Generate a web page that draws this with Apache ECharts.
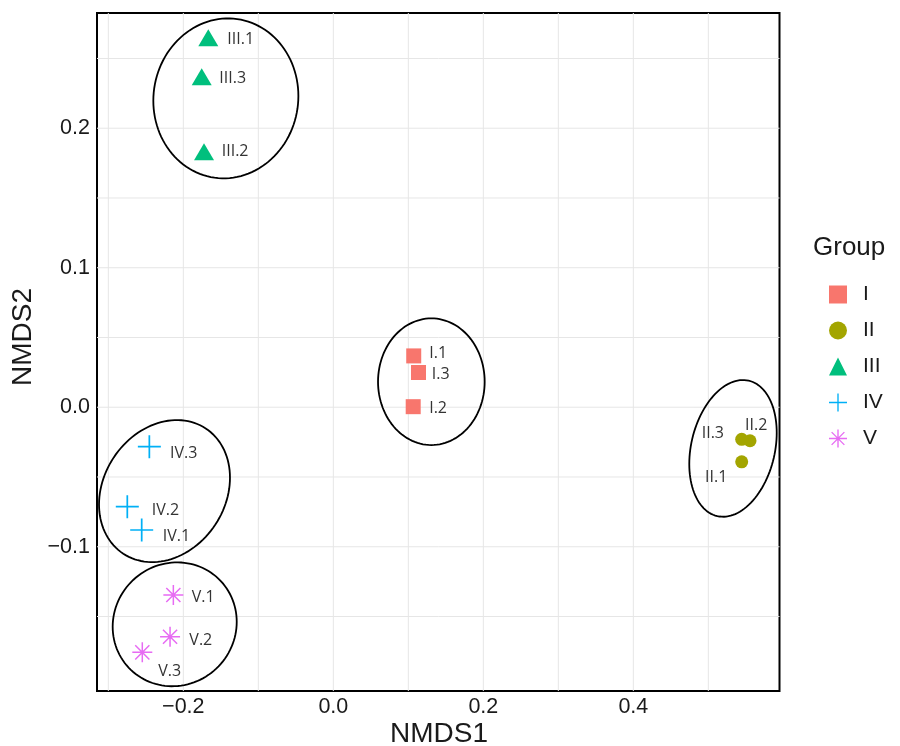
<!DOCTYPE html>
<html><head><meta charset="utf-8">
<script src="https://cdn.jsdelivr.net/npm/echarts@6/dist/echarts.min.js"></script>
<style>html,body{margin:0;padding:0;background:#fff}#main{width:900px;height:746px}</style>
</head><body><div id="main"></div>
<script>
// ---- data ----
const groups = ['I', 'II', 'III', 'IV', 'V'];
const sampleNames = ['I.1','I.2','I.3','II.1','II.2','II.3','III.1','III.2','III.3','IV.1','IV.2','IV.3','V.1','V.2','V.3'];
const sampleGroup = ['I','I','I','II','II','II','III','III','III','IV','IV','IV','V','V','V'];
const nmds1 = [0.1072, 0.1065, 0.1136, 0.5445, 0.5556, 0.5445, -0.1667, -0.1724, -0.1755, -0.2555, -0.2747, -0.2453, -0.2133, -0.2177, -0.2547];
const nmds2 = [0.0368, 0.0004, 0.0249, -0.0391, -0.0240, -0.0230, 0.2649, 0.1832, 0.2369, -0.0880, -0.0713, -0.0283, -0.1346, -0.1645, -0.1757];
const xTicks = [-0.2, 0.0, 0.2, 0.4];
const yTicks = [-0.1, 0.0, 0.1, 0.2];
const xGrid = [-0.3, -0.2, -0.1, 0.0, 0.1, 0.2, 0.3, 0.4, 0.5];
const yGrid = [-0.15, -0.1, -0.05, 0.0, 0.05, 0.1, 0.15, 0.2, 0.25];
const xRange = [-0.3151, 0.5949];
const yRange = [-0.2034, 0.2826];
// ellipses drawn around groups: centre, half-extents and tilt phase
const ellipseGroup = ['I', 'II', 'III', 'IV', 'V'];
const ellipseCx = [0.1307, 0.5329, -0.1433, -0.2251, -0.2115];
const ellipseCy = [0.0183, -0.0295, 0.2214, -0.0601, -0.1556];
const ellipseRx = [0.0711, 0.0583, 0.0967, 0.0873, 0.0827];
const ellipseRy = [0.0454, 0.0490, 0.0573, 0.0509, 0.0444];
const ellipseTilt = [0.0, 0.23, 0.03, 0.19, 0.04];

// ---- styles ----
const groupColors = {I:'#F8766D', II:'#A3A500', III:'#00BF7D', IV:'#00B0F6', V:'#E76BF3'};
const plusPath = 'path://M9.25,0H10.75V20H9.25Z M0,9.25H20V10.75H0Z';
const starPath = 'path://M9.25,0H10.75V20H9.25Z M0,9.25H20V10.75H0Z M3.46,2.40L17.60,16.54L16.54,17.60L2.40,3.46Z M16.54,2.40L17.60,3.46L3.46,17.60L2.40,16.54Z';
const groupSymbol = {I:'rect', II:'circle', III:'triangle', IV:plusPath, V:starPath};
const groupSize = {I:15, II:13, III:[20,17], IV:23, V:20};
const labelOffset = {'I.1':[15.6,-2], 'I.2':[16,2], 'I.3':[13.2,1.5], 'II.1':[-36.7,16], 'II.2':[-5,-15.7], 'II.3':[-40,-6],
  'III.1':[19,2], 'III.2':[17.7,0], 'III.3':[17.6,1.3], 'IV.1':[21,6.7], 'IV.2':[24.4,3.3], 'IV.3':[20.7,6.6],
  'V.1':[18.4,2.3], 'V.2':[19.3,4], 'V.3':[16,19.4]};
const txt = '#1a1a1a';
const noTick = {show: false, length: 0, lineStyle: {width: 0, color: 'transparent'}};

function fmt(list) {
  return function (v) {
    if (!list.some(t => Math.abs(t - v) < 1e-6)) return '';
    const s = Math.abs(v).toFixed(1);
    return v < -1e-9 ? '\u2212' + s : s;
  };
}

const chart = echarts.init(document.getElementById('main'), null, {renderer: 'canvas'});

const series = [];
// panel grid lines (vertical: kind 0, horizontal: kind 1)
series.push({
  type: 'custom', name: 'gridlines', silent: true, z: 1, clip: true,
  data: xGrid.map(v => [v, 0, 0]).concat(yGrid.map(v => [0, v, 1])),
  encode: {x: 0, y: 1},
  renderItem: function (params, api) {
    const vertical = api.value(2) === 0;
    const a = vertical ? api.coord([api.value(0), yRange[0]]) : api.coord([xRange[0], api.value(1)]);
    const b = vertical ? api.coord([api.value(0), yRange[1]]) : api.coord([xRange[1], api.value(1)]);
    return {type: 'line', shape: {x1: a[0], y1: a[1], x2: b[0], y2: b[1]}, style: {stroke: '#e6e6e6', lineWidth: 1}};
  }
});
series.push({
  type: 'custom', name: 'ellipses', silent: true, z: 3, clip: false,
  data: ellipseGroup.map((g, i) => [ellipseCx[i], ellipseCy[i], ellipseRx[i], ellipseRy[i], ellipseTilt[i]]),
  encode: {x: 0, y: 1},
  renderItem: function (params, api) {
    const cx = api.value(0), cy = api.value(1), rx = api.value(2), ry = api.value(3), ph = api.value(4);
    const pts = [];
    for (let k = 0; k < 120; k++) {
      const t = 2 * Math.PI * k / 120;
      pts.push(api.coord([cx + rx * Math.cos(t), cy + ry * Math.sin(t + ph)]));
    }
    return {type: 'polygon', shape: {points: pts}, style: {fill: 'none', stroke: '#000', lineWidth: 1.8}};
  }
});
groups.forEach(g => {
  const data = [];
  sampleNames.forEach((n, i) => {
    if (sampleGroup[i] !== g) return;
    data.push({name: n, value: [nmds1[i], nmds2[i]], label: {offset: labelOffset[n]}});
  });
  series.push({
    type: 'scatter', name: g, data: data, z: 4,
    symbol: groupSymbol[g], symbolSize: groupSize[g],
    itemStyle: {color: groupColors[g], opacity: 1},
    label: {show: true, position: 'inside', align: 'left', verticalAlign: 'middle', formatter: '{b}',
      fontFamily: 'Open Sans', fontSize: 16, color: '#333', textBorderWidth: 0, textBorderColor: 'transparent'},
    emphasis: {disabled: true}
  });
});

chart.setOption({
  animation: false,
  backgroundColor: '#fff',
  grid: {left: 97, right: 120.5, top: 13, bottom: 55, show: true, borderColor: '#000', borderWidth: 2, backgroundColor: 'transparent'},
  xAxis: {
    type: 'value', min: xRange[0], max: xRange[1],
    axisLine: {show: false}, axisTick: noTick, minorTick: noTick,
    splitLine: {show: false}, minorSplitLine: {show: false},
    axisLabel: {customValues: xTicks, formatter: fmt(xTicks), fontFamily: 'Liberation Sans', fontSize: 21.5, color: txt, margin: 5}
  },
  yAxis: {
    type: 'value', min: yRange[0], max: yRange[1],
    axisLine: {show: false}, axisTick: noTick, minorTick: noTick,
    splitLine: {show: false}, minorSplitLine: {show: false},
    axisLabel: {customValues: yTicks, formatter: fmt(yTicks), fontFamily: 'Liberation Sans', fontSize: 21.5, color: txt, margin: 7}
  },
  legend: {
    orient: 'vertical', left: 824, top: 279, itemWidth: 18, itemHeight: 18, itemGap: 15,
    data: groups, selectedMode: false,
    textStyle: {fontFamily: 'Liberation Sans', fontSize: 21, color: txt, padding: [0, 0, 0, 11]}
  },
  graphic: [
    {type: 'text', x: 813, y: 248, style: {text: 'Group', font: '26px "Liberation Sans"', fill: txt, align: 'left', verticalAlign: 'middle'}},
    {type: 'text', x: 439, y: 734, style: {text: 'NMDS1', font: '28px "Liberation Sans"', fill: txt, align: 'center', verticalAlign: 'middle'}},
    {type: 'text', x: 23, y: 337, rotation: Math.PI / 2, style: {text: 'NMDS2', font: '28px "Liberation Sans"', fill: txt, align: 'center', verticalAlign: 'middle'}}
  ],
  series: series
});
</script></body></html>
